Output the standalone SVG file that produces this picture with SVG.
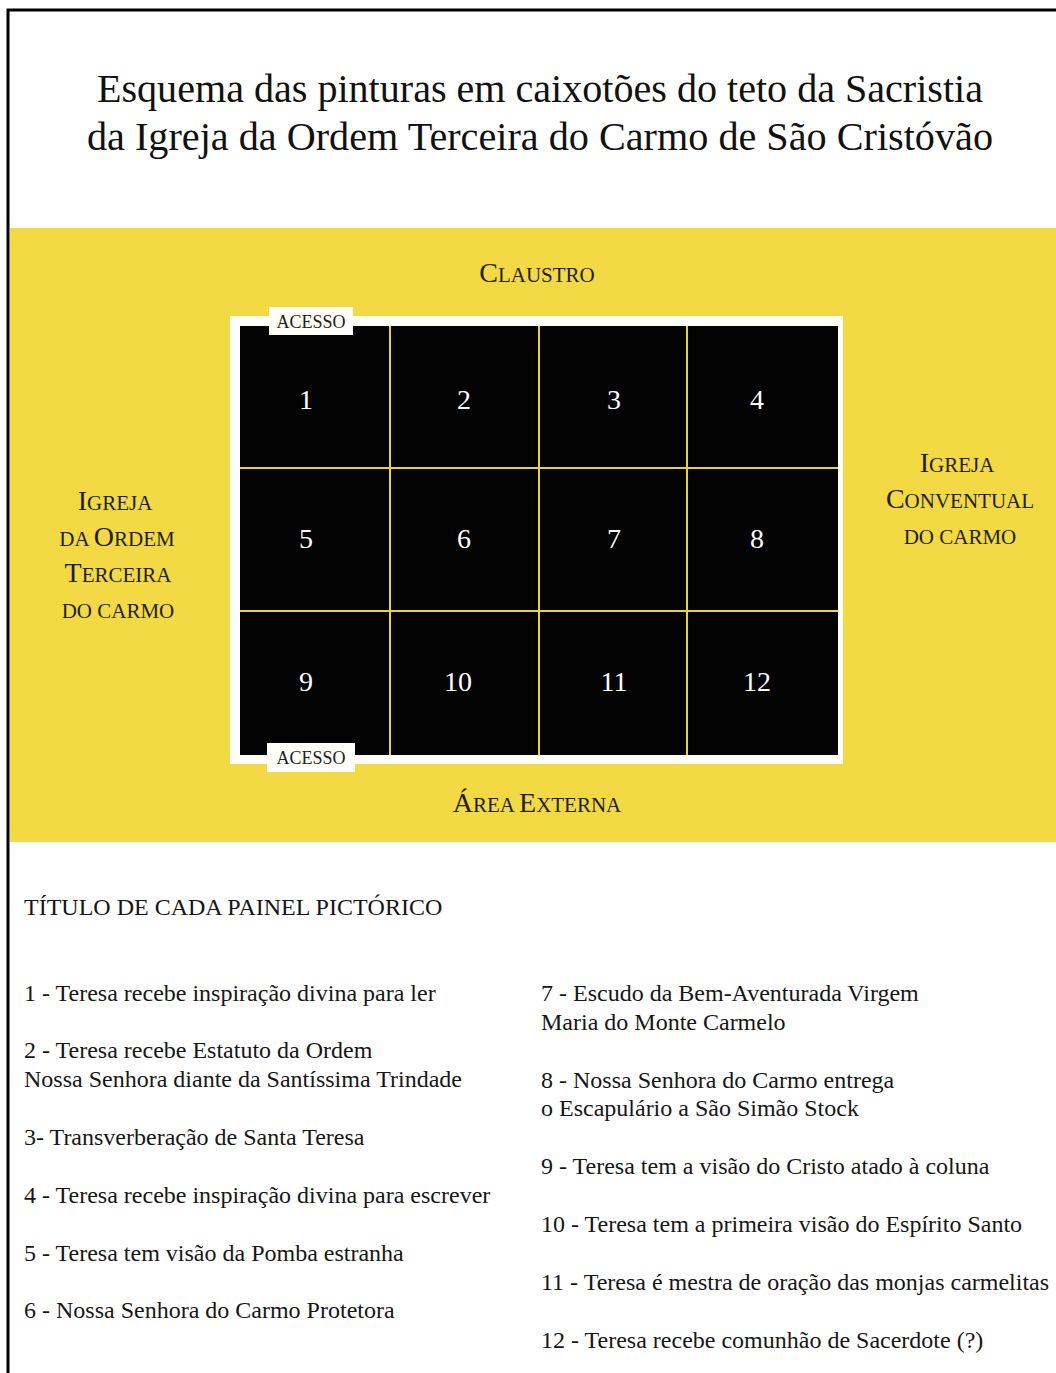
<svg xmlns="http://www.w3.org/2000/svg" width="1056" height="1373" viewBox="0 0 1056 1373">
<style>
  .serif { font-family: "Liberation Serif", "Times New Roman", serif; }
  .title { font-size: 40px; fill: #111; text-anchor: middle; }
  .sc { font-size: 21px; fill: #231f20; text-anchor: middle; }
  .big { font-size: 28px; }
  .num { font-size: 28px; fill: #ffffff; text-anchor: middle; }
  .acc { font-size: 18px; fill: #231f20; text-anchor: middle; }
  .list { font-size: 24px; fill: #161616; }
  .cell { fill: #030303; }
  .gl { stroke: #e6d43a; stroke-width: 2; }
</style>
<rect x="0" y="0" width="1056" height="1373" fill="#ffffff"/>
<g id="border">
  <path d="M8 1373 V10 H1056" fill="none" stroke="#000" stroke-width="3"/>
</g>
<g id="title" class="serif">
  <text class="title" x="540" y="102" textLength="886" lengthAdjust="spacingAndGlyphs">Esquema das pinturas em caixotões do teto da Sacristia</text>
  <text class="title" x="540" y="150" textLength="906" lengthAdjust="spacingAndGlyphs">da Igreja da Ordem Terceira do Carmo de São Cristóvão</text>
</g>
<rect id="band" x="10" y="228" width="1046" height="614" fill="#f3d943"/>
<g id="claustro" class="serif"><text class="sc" x="537" y="282"><tspan class="big">C</tspan>LAUSTRO</text></g>
<g id="area-externa" class="serif"><text class="sc" x="537" y="812"><tspan class="big">Á</tspan>REA <tspan class="big">E</tspan>XTERNA</text></g>
<g id="igreja-ordem-terceira" class="serif">
  <text class="sc" x="115" y="510"><tspan class="big">I</tspan>GREJA</text>
  <text class="sc" x="117" y="546">DA <tspan class="big">O</tspan>RDEM</text>
  <text class="sc" x="118" y="582"><tspan class="big">T</tspan>ERCEIRA</text>
  <text class="sc" x="118" y="618">DO CARMO</text>
</g>
<g id="igreja-conventual" class="serif">
  <text class="sc" x="957" y="472"><tspan class="big">I</tspan>GREJA</text>
  <text class="sc" x="960" y="508"><tspan class="big">C</tspan>ONVENTUAL</text>
  <text class="sc" x="960" y="544">DO CARMO</text>
</g>
<g id="grid">
  <rect x="230" y="316" width="613" height="448" fill="#fffef8"/>
  <rect class="cell" x="240" y="326" width="598" height="429"/>
</g>
<g id="connectors">
  <line class="gl" x1="390" y1="326" x2="390" y2="755"/>
  <line class="gl" x1="539" y1="326" x2="539" y2="755"/>
  <line class="gl" x1="687" y1="326" x2="687" y2="755"/>
  <line class="gl" x1="240" y1="468" x2="838" y2="468"/>
  <line class="gl" x1="240" y1="611" x2="838" y2="611"/>
</g>
<g id="cell-1" class="serif"><text class="num" x="306" y="409">1</text></g>
<g id="cell-2" class="serif"><text class="num" x="464" y="409">2</text></g>
<g id="cell-3" class="serif"><text class="num" x="614" y="409">3</text></g>
<g id="cell-4" class="serif"><text class="num" x="757" y="409">4</text></g>
<g id="cell-5" class="serif"><text class="num" x="306" y="548">5</text></g>
<g id="cell-6" class="serif"><text class="num" x="464" y="548">6</text></g>
<g id="cell-7" class="serif"><text class="num" x="614" y="548">7</text></g>
<g id="cell-8" class="serif"><text class="num" x="757" y="548">8</text></g>
<g id="cell-9" class="serif"><text class="num" x="306" y="691">9</text></g>
<g id="cell-10" class="serif"><text class="num" x="458" y="691">10</text></g>
<g id="cell-11" class="serif"><text class="num" x="614" y="691">11</text></g>
<g id="cell-12" class="serif"><text class="num" x="757" y="691">12</text></g>
<g id="acesso-top" class="serif">
  <rect x="269" y="307" width="84" height="28" fill="#fffef8"/>
  <text class="acc" x="311" y="328">ACESSO</text>
</g>
<g id="acesso-bottom" class="serif">
  <rect x="267" y="743" width="88" height="29" fill="#fffef8"/>
  <text class="acc" x="311" y="764">ACESSO</text>
</g>
<g id="legend" class="serif">
  <text class="list" x="24" y="915">TÍTULO DE CADA PAINEL PICTÓRICO</text>
  <text class="list" x="24" y="1001">1 - Teresa recebe inspiração divina para ler</text>
  <text class="list" x="24" y="1058">2 - Teresa recebe Estatuto da Ordem</text>
  <text class="list" x="24" y="1087">Nossa Senhora diante da Santíssima Trindade</text>
  <text class="list" x="24" y="1145">3- Transverberação de Santa Teresa</text>
  <text class="list" x="24" y="1203">4 - Teresa recebe inspiração divina para escrever</text>
  <text class="list" x="24" y="1261">5 - Teresa tem visão da Pomba estranha</text>
  <text class="list" x="24" y="1318">6 - Nossa Senhora do Carmo Protetora</text>
  <text class="list" x="541" y="1001">7 - Escudo da Bem-Aventurada Virgem</text>
  <text class="list" x="541" y="1030">Maria do Monte Carmelo</text>
  <text class="list" x="541" y="1088">8 - Nossa Senhora do Carmo entrega</text>
  <text class="list" x="541" y="1116">o Escapulário a São Simão Stock</text>
  <text class="list" x="541" y="1174">9 - Teresa tem a visão do Cristo atado à coluna</text>
  <text class="list" x="541" y="1232">10 - Teresa tem a primeira visão do Espírito Santo</text>
  <text class="list" x="541" y="1290">11 - Teresa é mestra de oração das monjas carmelitas</text>
  <text class="list" x="541" y="1348">12 - Teresa recebe comunhão de Sacerdote (?)</text>
</g>
</svg>
